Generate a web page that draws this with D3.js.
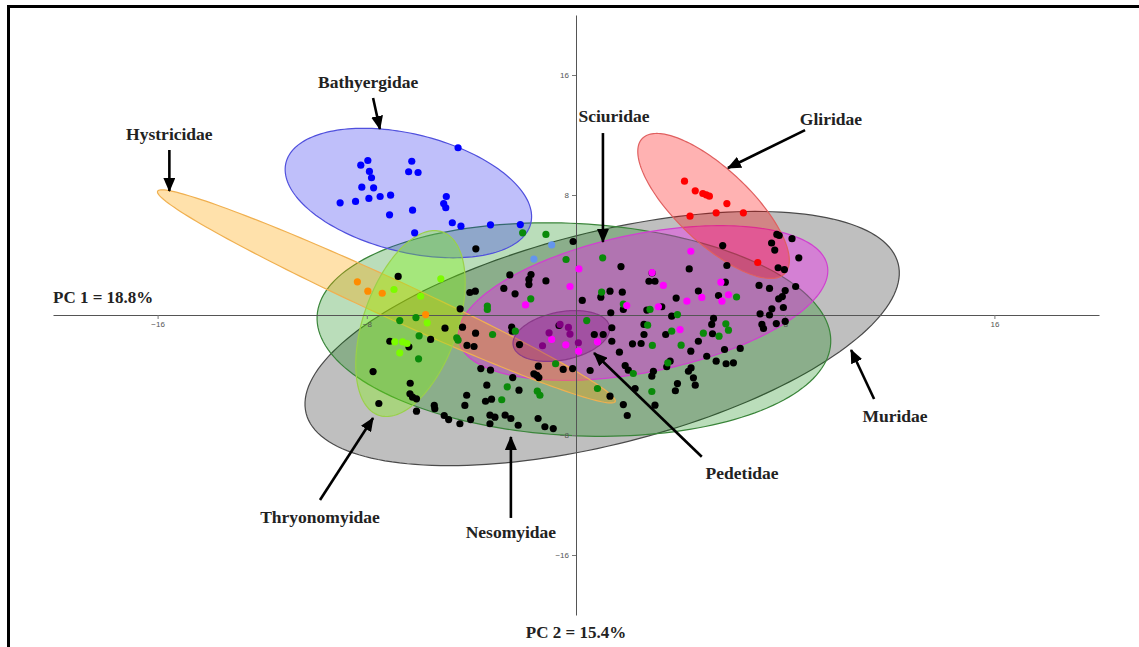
<!DOCTYPE html>
<html>
<head>
<meta charset="utf-8">
<script src="https://cdn.jsdelivr.net/npm/d3@7/dist/d3.min.js"></script>
<style>
  body { margin: 0; background: #fff; }
  svg { display: block; }
</style>
</head>
<body>
<div id="chart"></div>
<script>
// PCA scores (PC1, PC2), one array per family
const bathyergidae = [[-4.51,11.15],[-8.23,9.99],[-7.96,10.30],[-7.90,9.57],[-7.82,9.15],[-6.28,10.25],[-6.40,9.55],[-6.04,9.50],
  [-8.19,8.52],[-7.74,8.48],[-9.02,7.48],[-8.43,7.57],[-7.92,7.77],[-7.49,7.90],[-7.09,7.99],[-4.96,7.90],[-5.06,7.43],[-4.98,7.15],
  [-6.25,6.99],[-7.13,6.68],[-4.73,6.15],[-4.40,5.92],[-3.27,6.01],[-2.13,6.03],[-6.17,5.48]]
const hystricidae = [[-8.36,2.21],[-7.96,1.59],[-7.41,1.45],[-5.75,0.03]]
const thryonomyidae = [[-6.96,1.70],[-5.94,1.25],[-5.17,2.41],[-5.69,-0.52],[-6.93,-1.79],[-6.63,-1.79],[-6.46,-1.90],[-6.74,-2.52]]
const gliridae = [[4.15,8.92],[4.56,8.28],[4.85,8.10],[4.98,8.01],[5.10,7.92],[5.77,7.43],[4.36,6.59],[5.36,6.81],[6.40,6.81],[6.95,3.50]]
const pedetidae = [[-1.03,-1.19],[-0.61,-0.63],[-0.29,-0.83],[-0.23,-1.27],[-1.28,-2.05],[0.09,-1.85]]
const unlabelled = [[-0.93,4.67],[-1.61,3.73]]
const sciuridae = [[0.11,3.07],[-0.23,1.90],[-1.93,0.67],[-0.93,-1.63],[-0.39,-1.99],[4.39,4.25],[2.91,2.83],[3.34,1.97],[5.54,2.19],
  [4.81,1.17],[5.83,1.35],[5.58,0.92],[4.24,0.92],[1.94,0.63],[3.15,0.55],[3.98,-0.97],[0.82,-1.79],[0.10,-2.41]]
const nesomyidae = [[-2.04,5.48],[-1.15,5.37],[-0.38,3.70],[1.02,3.81],[-1.73,1.08],[-3.39,0.60],[-3.39,0.37],[-6.74,-0.37],[-6.12,-0.17],
  [-6.00,-1.39],[-4.56,-1.52],[-4.51,-1.68],[-3.19,-1.30],[-2.32,-1.08],[-6.02,-2.92],[-2.63,-4.79],[-2.84,-5.65],[-1.48,-5.08],[-1.38,-5.35],
  [-0.78,-3.25],[0.98,1.52],[1.81,0.73],[2.83,0.37],[6.14,1.20],[3.88,0.03],[5.73,-0.59],[5.83,-1.01],[5.47,-1.41],[4.87,-1.21],[3.66,-1.08],
  [4.02,-2.01],[2.74,-0.68],[2.92,-2.03],[0.41,-0.37],[2.19,-3.90],[3.51,-3.19],[2.90,-5.10],[0.82,-4.90]]
const muridae = [[-3.83,4.41],[-0.11,4.90],[-6.80,2.57],[-2.53,2.67],[-1.72,2.70],[-1.80,2.37],[-1.80,2.03],[-1.15,2.27],[-2.76,1.77],
  [-2.33,1.41],[-4.06,1.50],[-3.85,1.59],[-4.43,0.41],[-5.01,-0.88],[-4.34,-0.81],[-3.84,-1.21],[-4.17,-2.03],[-3.90,-2.10],[-2.46,-0.81],
  [-2.44,-1.08],[-2.16,-1.97],[-0.65,-0.70],[-7.12,-1.75],[-6.39,-2.12],[-5.56,-1.63],[-7.76,-3.77],[-6.34,-4.55],[-6.35,-5.25],[-6.25,-5.48],
  [-6.10,-5.59],[-7.54,-5.90],[-6.10,-6.41],[-5.42,-6.03],[-5.40,-6.25],[-5.04,-6.70],[-4.87,-6.97],[-4.44,-7.25],[-4.25,-6.03],[-4.18,-5.35],
  [-4.03,-6.97],[-3.64,-3.57],[-3.27,-3.68],[-3.41,-4.68],[-3.46,-5.75],[-3.23,-5.61],[-3.29,-6.68],[-3.10,-6.81],[-2.71,-6.68],[-2.49,-6.90],
  [-3.29,-7.25],[-2.21,-7.35],[-2.42,-4.17],[-2.18,-5.01],[-1.44,-3.41],[-1.61,-3.92],[-1.50,-4.03],[-1.42,-4.17],[-0.49,-3.63],[-0.13,-3.57],
  [-1.45,-6.90],[-1.19,-7.45],[-0.87,-7.57],[0.24,0.97],[0.95,1.19],[1.30,1.59],[1.77,1.52],[1.72,3.23],[1.33,0.15],[2.71,0.33],[3.28,0.55],
  [3.83,1.13],[4.68,1.60],[5.45,1.30],[4.33,3.07],[5.61,4.63],[5.77,3.30],[2.91,2.80],[2.79,2.25],[3.02,2.25],[5.71,2.19],[7.00,1.97],
  [7.40,1.77],[7.75,1.08],[7.89,1.23],[8.00,1.63],[8.40,1.90],[7.68,5.37],[7.77,5.30],[7.48,4.80],[7.60,4.33],[8.26,5.09],[8.52,3.81],
  [7.73,3.15],[7.97,3.03],[7.49,0.41],[7.93,0.50],[7.04,0.08],[7.40,0.00],[7.11,-0.63],[7.17,-0.90],[7.66,-0.57],[8.00,-0.43],[3.66,-0.08],
  [5.26,-0.23],[5.19,-0.63],[5.22,-1.25],[4.68,-1.75],[5.68,-2.30],[6.28,-2.23],[5.00,-2.75],[5.36,-3.08],[5.74,-3.25],[6.02,-3.19],
  [4.39,-2.41],[4.30,-3.75],[4.40,-3.53],[4.49,-4.19],[4.56,-4.68],[3.88,-4.57],[3.80,-5.05],[3.43,-1.30],[2.60,-0.63],[2.60,-1.30],
  [2.49,-1.90],[2.16,-1.92],[1.66,-2.48],[1.37,-1.75],[1.37,-0.85],[1.04,-1.30],[0.70,-1.30],[0.54,-3.70],[1.88,-3.37],[2.00,-3.68],
  [2.90,-4.08],[2.96,-3.75],[3.47,-3.45],[3.60,-3.08],[2.26,-4.90],[1.30,-5.41],[1.81,-5.97],[1.96,-6.70],[3.02,-6.01],[1.81,0.37]]

// confidence ellipses: centre plus two conjugate half-axes, in PC units
const ellipses = [
  { name: "Muridae", cx: 1.00, cy: -1.57, ux: 11.32, uy: 4.99, vx: 1.00, vy: -6.85 },
  { name: "Nesomyidae", cx: -0.08, cy: -0.97, ux: 9.82, uy: -0.90, vx: -0.21, vy: -7.06 },
  { name: "Bathyergidae", cx: -6.41, cy: 8.13, ux: 4.68, uy: -2.03, vx: -0.55, vy: -3.81 },
  { name: "Sciuridae", cx: 2.56, cy: 0.80, ux: 7.05, uy: 2.50, vx: 0.53, vy: -4.51 },
  { name: "Hystricidae", cx: -7.25, cy: 1.24, ux: 8.75, uy: -7.01, vx: -0.30, vy: -1.15 },
  { name: "Thryonomyidae", cx: -6.33, cy: -0.57, ux: 1.22, uy: 6.11, vx: 1.70, vy: -1.03 },
  { name: "Pedetidae", cx: -0.56, cy: -1.40, ux: 1.84, uy: 0.64, vx: 0.18, vy: -1.57 },
  { name: "Gliridae", cx: 5.26, cy: 7.27, ux: 2.73, uy: -4.49, vx: -0.97, vy: -1.79 }
]

// family labels with their arrows (label spot, arrow tail, arrow tip), PC units
const labels = [
  { text: "Bathyergidae", lx: -7.95, ly: 15.13, x1: -7.76, y1: 14.47, x2: -7.50, y2: 12.40 },
  { text: "Hystricidae", lx: -15.55, ly: 11.67, x1: -15.55, y1: 11.0, x2: -15.55, y2: 8.27 },
  { text: "Sciuridae", lx: 1.45, ly: 12.87, x1: 1.03, y1: 12.13, x2: 1.03, y2: 4.87 },
  { text: "Gliridae", lx: 9.75, ly: 12.67, x1: 8.76, y1: 12.33, x2: 5.81, y2: 9.8 },
  { text: "Muridae", lx: 12.2, ly: -7.13, x1: 11.4, y1: -5.6, x2: 10.52, y2: -2.33 },
  { text: "Pedetidae", lx: 6.35, ly: -10.93, x1: 4.81, y1: -9.45, x2: 0.69, y2: -2.53 },
  { text: "Nesomyidae", lx: -2.49, ly: -14.87, x1: -2.49, y1: -13.53, x2: -2.49, y2: -8.13 },
  { text: "Thryonomyidae", lx: -9.79, ly: -13.87, x1: -9.79, y1: -12.33, x2: -7.76, y2: -6.87 }
]

const xTicks = [-16, -8, 8, 16]
const yTicks = [16, 8, -8, -16]

const ellipseStyle = {
  Muridae: { fill: "#000000", op: 0.25, stroke: "#4a4a4a" },
  Nesomyidae: { fill: "#008000", op: 0.27, stroke: "#3a853a" },
  Bathyergidae: { fill: "#2a2aee", op: 0.3, stroke: "#5050dd" },
  Sciuridae: { fill: "#ff00ff", op: 0.33, stroke: "#d040d0" },
  Hystricidae: { fill: "#ffa500", op: 0.33, stroke: "#f0b050" },
  Thryonomyidae: { fill: "#7cfc00", op: 0.33, stroke: "#9ad04a" },
  Pedetidae: { fill: "#800080", op: 0.3, stroke: "#8a3a8a" },
  Gliridae: { fill: "#ff0000", op: 0.3, stroke: "#e06060" }
}

const pointGroups = [
  { pts: muridae, color: "#000000" },
  { pts: nesomyidae, color: "#0a8a0a" },
  { pts: sciuridae, color: "#ff00ff" },
  { pts: pedetidae, color: "#800080" },
  { pts: unlabelled, color: "#6495ed" },
  { pts: bathyergidae, color: "#0000ff" },
  { pts: hystricidae, color: "#ff8c00" },
  { pts: thryonomyidae, color: "#7cfc00" },
  { pts: gliridae, color: "#ff0000" }
]

const width = 1139, height = 647

const svg = d3.select("#chart").append("svg")
  .attr("width", width)
  .attr("height", height)

svg.append("defs").append("marker")
  .attr("id", "head")
  .attr("viewBox", "0 0 14 12")
  .attr("refX", 13)
  .attr("refY", 6)
  .attr("markerWidth", 14)
  .attr("markerHeight", 12)
  .attr("markerUnits", "userSpaceOnUse")
  .attr("orient", "auto")
  .append("path")
  .attr("d", "M0,0 L14,6 L0,12 Z")
  .attr("fill", "#000")

// frame
svg.append("path")
  .attr("d", `M${width},6.5 H8.5 V${height}`)
  .attr("fill", "none")
  .attr("stroke", "#000")
  .attr("stroke-width", 3)

const x = d3.scaleLinear().domain([-20, 20]).range([53, 1099])
const y = d3.scaleLinear().domain([-20, 20]).range([615, 15])

const g = svg.append("g")

// ellipses
const line = d3.line().x(d => x(d[0])).y(d => y(d[1])).curve(d3.curveLinearClosed)
function ellipsePoints(e) {
  return d3.range(0, 360, 2).map(a => {
    const t = a * Math.PI / 180
    return [e.cx + e.ux * Math.cos(t) + e.vx * Math.sin(t), e.cy + e.uy * Math.cos(t) + e.vy * Math.sin(t)]
  })
}
g.selectAll(".ell")
  .data(ellipses)
  .enter().append("path")
  .attr("class", "ell")
  .attr("d", d => line(ellipsePoints(d)))
  .attr("fill", d => ellipseStyle[d.name].fill)
  .attr("fill-opacity", d => ellipseStyle[d.name].op)
  .attr("stroke", d => ellipseStyle[d.name].stroke)
  .attr("stroke-width", 1.2)

// axes through the origin
const xAxis = g.append("g")
  .attr("transform", `translate(0,${y(0)})`)
  .call(d3.axisBottom(x).tickValues(xTicks).tickSize(4).tickSizeOuter(0))
const yAxis = g.append("g")
  .attr("transform", `translate(${x(0)},0)`)
  .call(d3.axisLeft(y).tickValues(yTicks).tickSize(4).tickSizeOuter(0))

;[xAxis, yAxis].forEach(ax => {
  ax.select(".domain").attr("stroke", "#555").attr("stroke-width", 1)
  ax.selectAll(".tick line").attr("stroke", "#777")
  ax.selectAll(".tick text")
    .attr("fill", "#555")
    .attr("font-family", "'Liberation Sans', Arial, sans-serif")
    .attr("font-size", 8)
})
xAxis.selectAll(".tick text").attr("dy", "0.6em")

// points
pointGroups.forEach(grp => {
  g.append("g").selectAll("circle")
    .data(grp.pts)
    .enter().append("circle")
    .attr("cx", d => x(d[0]))
    .attr("cy", d => y(d[1]))
    .attr("r", 3.6)
    .attr("fill", grp.color)
})

// labels + arrows
const ann = g.append("g")
ann.selectAll("line")
  .data(labels)
  .enter().append("line")
  .attr("x1", d => x(d.x1))
  .attr("y1", d => y(d.y1))
  .attr("x2", d => x(d.x2))
  .attr("y2", d => y(d.y2))
  .attr("stroke", "#000")
  .attr("stroke-width", 2.6)
  .attr("marker-end", "url(#head)")

ann.selectAll("text")
  .data(labels)
  .enter().append("text")
  .attr("x", d => x(d.lx))
  .attr("y", d => y(d.ly))
  .attr("text-anchor", "middle")
  .attr("font-family", "'Liberation Serif', 'Times New Roman', serif")
  .attr("font-weight", "bold")
  .attr("font-size", 17.5)
  .attr("fill", "#222")
  .text(d => d.text)

g.append("text")
  .attr("x", x(-20))
  .attr("y", y(0) - 12)
  .attr("font-family", "'Liberation Serif', 'Times New Roman', serif")
  .attr("font-weight", "bold")
  .attr("font-size", 17)
  .attr("fill", "#222")
  .text("PC 1 = 18.8%")

g.append("text")
  .attr("x", x(0))
  .attr("y", y(-20) + 23)
  .attr("text-anchor", "middle")
  .attr("font-family", "'Liberation Serif', 'Times New Roman', serif")
  .attr("font-weight", "bold")
  .attr("font-size", 17)
  .attr("fill", "#222")
  .text("PC 2 = 15.4%")
</script>
</body>
</html>
